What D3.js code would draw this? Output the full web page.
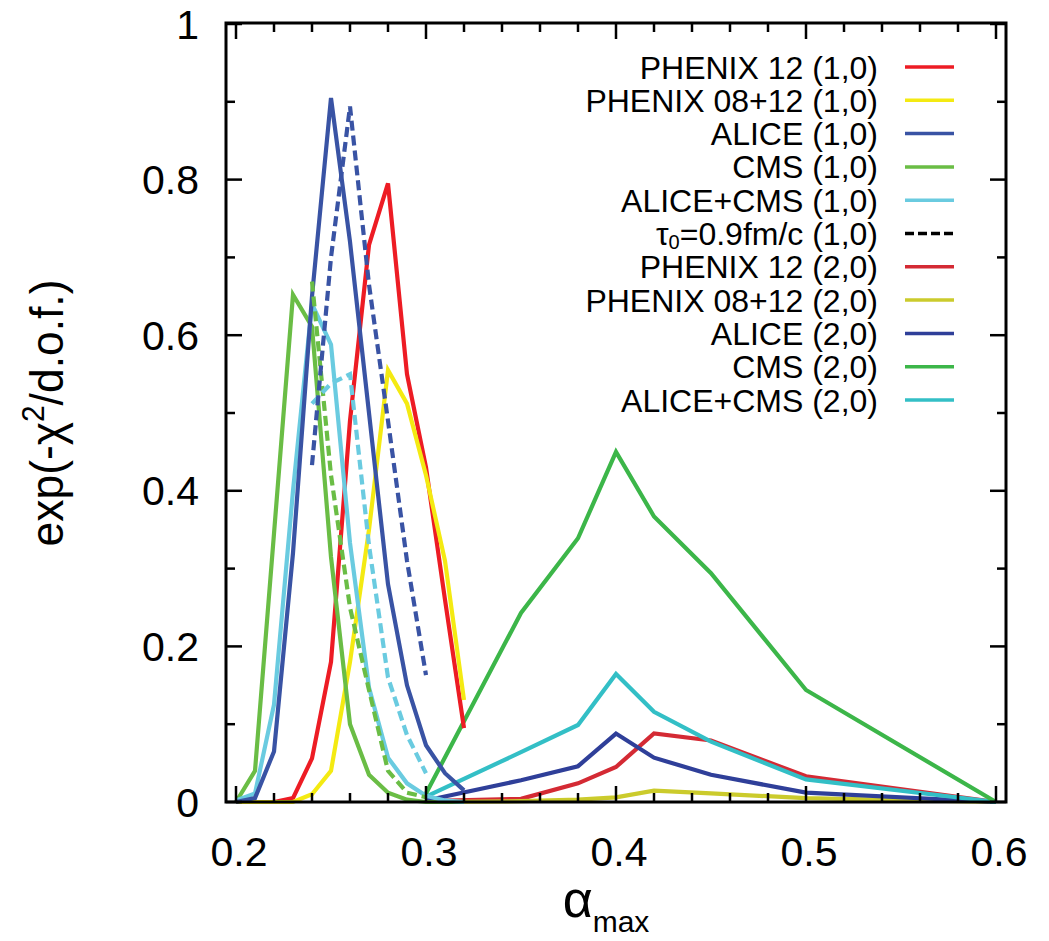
<!DOCTYPE html>
<html><head><meta charset="utf-8">
<script src="https://cdn.jsdelivr.net/npm/d3@7"></script>
<style>body{margin:0;background:#fff}svg{display:block}text{font-family:"Liberation Sans",Arial,sans-serif;fill:#000}</style>
</head><body><svg id="c" width="1049" height="941"></svg>
<script>
// ---- data ----
const alpha10 = [0.20,0.21,0.22,0.23,0.24,0.25,0.26,0.27,0.28,0.29,0.30,0.31,0.32];
const phenix12_10   = [0,0,0,0.005,0.056,0.18,0.49,0.716,0.795,0.55,0.43,0.26,0.095];
const phenix0812_10 = [0,0,0,0,0.01,0.04,0.18,0.35,0.555,0.512,0.42,0.31,0.131];
const alice_10      = [0,0.005,0.065,0.32,0.65,0.905,0.72,0.50,0.28,0.15,0.073,0.037,0.015];
const cms_10        = [0,0.04,0.345,0.652,0.611,0.315,0.10,0.035,0.012,0.003,0,0,0];
const alicecms_10   = [0.002,0.011,0.125,0.40,0.64,0.588,0.333,0.147,0.057,0.024,0.008,0.002,0];
const alphaTau = [0.24,0.25,0.26,0.27,0.28,0.29,0.30];
const aliceTau    = [0.433,0.70,0.894,0.665,0.49,0.31,0.163];
const cmsTau      = [0.669,0.42,0.25,0.144,0.04,0.012,0.006];
const alicecmsTau = [0.512,0.538,0.55,0.33,0.16,0.086,0.037];
const alpha20 = [0.30,0.35,0.38,0.40,0.42,0.45,0.50,0.60];
const phenix12_20   = [0.001,0.004,0.024,0.045,0.088,0.079,0.033,0];
const phenix0812_20 = [0,0.001,0.003,0.006,0.0145,0.011,0.005,0];
const alice_20      = [0.002,0.028,0.046,0.088,0.057,0.035,0.012,0];
const cms_20        = [0.011,0.243,0.339,0.450,0.367,0.294,0.144,0];
const alicecms_20   = [0.007,0.064,0.099,0.1645,0.116,0.0775,0.029,0];
const xTicks = [0.2,0.3,0.4,0.5,0.6];
const yTicks = [0,0.2,0.4,0.6,0.8,1];
const legendLabels = ["PHENIX 12 (1,0)","PHENIX 08+12 (1,0)","ALICE (1,0)","CMS (1,0)","ALICE+CMS (1,0)","TAU","PHENIX 12 (2,0)","PHENIX 08+12 (2,0)","ALICE (2,0)","CMS (2,0)","ALICE+CMS (2,0)"];
const colors = {r1:"#ed1c24",y1:"#f4ea12",b1:"#3953a4",g1:"#6abd45",c1:"#6acbe0",r2:"#d42a34",y2:"#cbcb2c",b2:"#2f3f99",g2:"#3cb649",c2:"#33bfc6"};

const series = [
 {x:alpha20,y:phenix12_20,c:colors.r2},
 {x:alpha20,y:phenix0812_20,c:colors.y2},
 {x:alpha20,y:alice_20,c:colors.b2},
 {x:alpha20,y:alicecms_20,c:colors.c2},
 {x:alpha20,y:cms_20,c:colors.g2},
 {x:alpha10,y:phenix12_10,c:colors.r1},
 {x:alpha10,y:phenix0812_10,c:colors.y1},
 {x:alpha10,y:cms_10,c:colors.g1},
 {x:alpha10,y:alicecms_10,c:colors.c1},
 {x:alpha10,y:alice_10,c:colors.b1},
 {x:alphaTau,y:cmsTau,c:colors.g1,d:true},
 {x:alphaTau,y:alicecmsTau,c:colors.c1,d:true},
 {x:alphaTau,y:aliceTau,c:colors.b1,d:true}
];
const legendColors=[colors.r1,colors.y1,colors.b1,colors.g1,colors.c1,"#000",colors.r2,colors.y2,colors.b2,colors.g2,colors.c2];

const svg = d3.select("#c");
const L=226,R=1006,T=23,B=802;
const x = d3.scaleLinear().domain([0.2,0.6]).range([236,996]);
const y = d3.scaleLinear().domain([0,1]).range([802,24]);

// lines
const line = d3.line().x(d=>x(d[0])).y(d=>y(d[1]));
series.forEach(s=>{
  svg.append("path").datum(s.x.map((v,i)=>[v,s.y[i]]))
    .attr("d",line).attr("fill","none").attr("stroke",s.c)
    .attr("stroke-width",4.2).attr("stroke-linejoin","miter")
    .attr("stroke-dasharray",s.d?"10,5":null);
});

// ticks
const g = svg.append("g").attr("stroke","#000").attr("stroke-width",2.5);
d3.range(0.2,0.6001,0.02).forEach(v=>{
  const major = Math.abs(Math.round(v*10)-v*10)<1e-6;
  const len = major?16:9;
  g.append("line").attr("x1",x(v)).attr("x2",x(v)).attr("y1",B).attr("y2",B-len);
  g.append("line").attr("x1",x(v)).attr("x2",x(v)).attr("y1",T).attr("y2",T+len);
});
d3.range(0,1.0001,0.1).forEach((v,i)=>{
  const len = i%2===0?16:9;
  g.append("line").attr("y1",y(v)).attr("y2",y(v)).attr("x1",L).attr("x2",L+len);
  g.append("line").attr("y1",y(v)).attr("y2",y(v)).attr("x1",R).attr("x2",R-len);
});
svg.append("rect").attr("x",L).attr("y",T).attr("width",R-L).attr("height",B-T)
  .attr("fill","none").attr("stroke","#000").attr("stroke-width",3);

// tick labels
xTicks.forEach(v=>svg.append("text").attr("x",x(v)+3).attr("y",866).attr("text-anchor","middle")
  .attr("font-size",41).text(d3.format(".1f")(v)));
yTicks.forEach(v=>svg.append("text").attr("x",199).attr("y",y(v)+14.5).attr("text-anchor","end")
  .attr("font-size",41).text(v===0?"0":v===1?"1":d3.format(".1f")(v)));

// axis titles
const xt = svg.append("text").attr("x",606).attr("y",917).attr("text-anchor","middle").attr("font-size",52);
xt.append("tspan").text("α");
xt.append("tspan").attr("font-size",30).attr("dy",15).text("max");
const yt = svg.append("text").attr("text-anchor","middle").attr("font-size",46);
yt.append("tspan").text("exp(-χ");
yt.append("tspan").attr("font-size",31).attr("dy",-19).text("2");
yt.append("tspan").attr("dy",19).text("/d.o.f.)");
const yw = yt.node().getBBox().width;
yt.attr("transform",`translate(63,413) rotate(-90) scale(${267/yw},1)`);

// legend
legendLabels.forEach((lab,i)=>{
  const ly = 67 + i*33.3;
  const t = svg.append("text").attr("x",878).attr("y",ly+11.5).attr("text-anchor","end").attr("font-size",32);
  if(lab==="TAU"){
    t.append("tspan").text("τ");
    t.append("tspan").attr("font-size",20).attr("dy",4).text("0");
    t.append("tspan").attr("dy",-4).text("=0.9fm/c (1,0)");
  } else t.text(lab);
  svg.append("line").attr("x1",905).attr("x2",954).attr("y1",ly).attr("y2",ly)
    .attr("stroke",legendColors[i]).attr("stroke-width",3.5)
    .attr("stroke-dasharray",lab==="TAU"?"9,4":null);
});
</script></body></html>
